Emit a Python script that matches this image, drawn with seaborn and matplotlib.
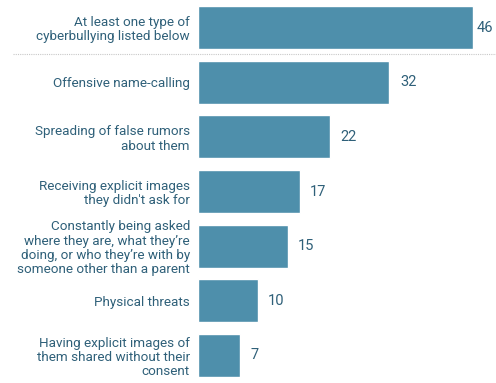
import matplotlib
matplotlib.use("Agg")
import matplotlib.pyplot as plt
import seaborn as sns
import pandas as pd
from matplotlib.lines import Line2D

categories = [
    "At least one type of\ncyberbullying listed below",
    "Offensive name-calling",
    "Spreading of false rumors\nabout them",
    "Receiving explicit images\nthey didn't ask for",
    "Constantly being asked\nwhere they are, what they\u2019re\ndoing, or who they\u2019re with by\nsomeone other than a parent",
    "Physical threats",
    "Having explicit images of\nthem shared without their\nconsent",
]
values = [46, 32, 22, 17, 15, 10, 7]

bar_color = "#4E8FAB"
text_color = "#2F6079"

sns.set_theme(style="white")
plt.rcParams['font.family'] = ['Roboto', 'DejaVu Sans']

df = pd.DataFrame({"category": categories, "value": values})

fig = plt.figure(figsize=(4.96, 3.83), dpi=100)
W, H = 496, 383
left, right = 198, 496
top, bottom = 6, 377
ax = fig.add_axes([left / W, 1 - bottom / H, (right - left) / W, (bottom - top) / H])

sns.barplot(data=df, x="value", y="category", color=bar_color, saturation=1,
            width=0.79, ax=ax, orient="h")

ax.set_xlim(0, 49.8)
ax.set_ylim(len(values) - 1 + 0.395, -0.395)
ax.set_xlabel("")
ax.set_ylabel("")
ax.set_xticks([])
for s in ax.spines.values():
    s.set_visible(False)
ax.tick_params(axis="y", length=0, pad=5.8, labelsize=9.7, labelcolor=text_color)
for lbl in ax.get_yticklabels():
    lbl.set_horizontalalignment("right")
    lbl.set_linespacing(1.12)

for i, (p, v) in enumerate(zip(ax.patches, values)):
    pad = 2.2 if i == 0 else 7.5
    ax.annotate(f"{v}", xy=(p.get_width(), p.get_y() + p.get_height() / 2),
                xytext=(pad, 0), textcoords="offset points",
                ha="left", va="center", fontsize=10.5, color=text_color)

# dotted separator between the total and the items
fig.add_artist(Line2D([13 / W, 1.0], [1 - 54 / H, 1 - 54 / H], transform=fig.transFigure,
                      color="#c8c8c8", linestyle=(0, (1, 1)), linewidth=0.8))

fig.savefig("out.png", dpi=100, facecolor="white")
